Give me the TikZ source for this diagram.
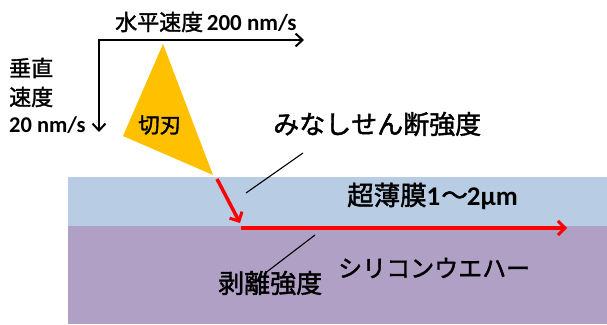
\documentclass[tikz,border=0pt]{standalone}
\usepackage{fontspec}
\usetikzlibrary{arrows.meta}
\newfontfamily\cjk[FakeBold=1.6]{Noto Sans CJK JP}
\newfontfamily\lat{Carlito}
\definecolor{filmc}{HTML}{B8CCE4}
\definecolor{waferc}{HTML}{B0A0C6}
\definecolor{bladec}{HTML}{FFC000}
\definecolor{redc}{HTML}{FF0000}
\tikzset{
 x=1pt,y=-1pt,
 lab/.style={inner sep=0pt,text=black,font=\cjk\fontsize{#1}{#1}\selectfont},
 lab/.default=22,
 axisarrow/.style={draw=black,line width=2pt,-{Straight Barb[length=7pt,width=13pt,line width=2pt]}},
 redarrow/.style={draw=redc,line width=3.5pt,-{Straight Barb[length=7pt,width=14pt,line width=3pt]}},
 leader/.style={draw=black,line width=1.1pt},
}
\begin{document}
\begin{tikzpicture}
\useasboundingbox (0,0) rectangle (607,324);
\fill[filmc] (68,177) rectangle (607,226);
\fill[waferc] (68,226) rectangle (607,324);
\fill[bladec] (163,44) -- (123,136) -- (213,175) -- cycle;
\coordinate (corner) at (99,40);
\coordinate (hEnd) at (304,40);
\coordinate (vEnd) at (99,132);
\draw[axisarrow] (98,40) -- (hEnd);
\draw[axisarrow] (corner) -- (vEnd);
\coordinate (r1) at (217,179);
\coordinate (r2) at (240,223);
\coordinate (r3) at (241,228);
\coordinate (r4) at (567,228);
\draw[redarrow] (r1) -- (r2);
\draw[redarrow] (r3) -- (r4);
\coordinate (l1a) at (303,153);
\coordinate (l1b) at (246,193);
\coordinate (l2a) at (315,235);
\coordinate (l2b) at (264,274);
\draw[leader] (l1a) -- (l1b);
\draw[leader] (l2a) -- (l2b);
\node[lab=22,anchor=west] (hs) at (115,22) {水平速度\,{\lat\bfseries\fontsize{23}{23}\selectfont 200 nm/s}};
\node[lab=22,anchor=west] (v1) at (9,68) {垂直};
\node[lab=22,anchor=west] (v2) at (9,97) {速度};
\node[anchor=west,inner sep=0pt,font=\lat\bfseries\fontsize{22.5}{22.5}\selectfont] (v3) at (9,125) {20 nm/s};
\node[lab=21.5,anchor=west] (blade) at (138,125) {切刃};
\node[lab=26,anchor=west] (shear) at (273,124) {みなしせん断強度};
\node[lab=26.5,anchor=west] (film) at (347,196) {超薄膜{\lat\bfseries\fontsize{27}{27}\selectfont 1}\hspace{1pt}～\hspace{-1pt}{\lat\bfseries\fontsize{27}{27}\selectfont 2µm}};
\node[lab=24,anchor=west] (wafer) at (338,268) {シリコンウエハー};
\node[lab=26,anchor=west] (peel) at (218,283) {剥離強度};
\end{tikzpicture}
\end{document}
